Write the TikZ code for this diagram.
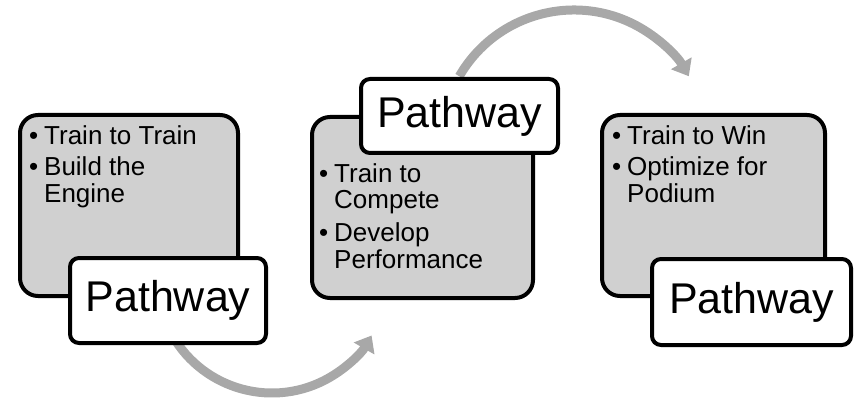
\documentclass[tikz,border=0pt]{standalone}
\usepackage{fontspec}
\setmainfont{Liberation Sans}
\usetikzlibrary{arrows.meta}
\definecolor{panelgray}{RGB}{208,208,208}
\definecolor{flowgray}{RGB}{168,168,168}
\tikzset{
  panel/.style={draw=black, line width=4pt, fill=panelgray, rounded corners=18pt,
    inner sep=0pt, anchor=center},
  tag/.style={draw=black, line width=4pt, fill=white, rounded corners=9pt,
    inner sep=0pt, anchor=center, font=\fontsize{43}{43}\selectfont},
  flow/.style={draw=flowgray, line width=9pt, -{Triangle[width=23pt,length=15pt]}},
  items/.style={anchor=base west, inner sep=0pt, align=left,
    font=\fontsize{26}{26}\selectfont}
}
\newcommand{\bul}{\makebox[15pt][l]{\textbullet}}
\begin{document}
\begin{tikzpicture}[x=1pt, y=-1pt]
  \useasboundingbox (0,0) rectangle (855,401);

  % curved flow arrows, drawn first so the boxes cover their tails
  \coordinate (lowstart) at (172.4,335.5);
  \coordinate (highstart) at (459.3,76.25);
  \draw[flow] (lowstart) arc[start angle=150, end angle=30, radius=115];
  \draw[flow] (highstart) arc[start angle=210, end angle=330, radius=132.5];

  % grey stage panels
  \node[panel, minimum width=218pt, minimum height=181pt] (p1) at (129,205.5) {};
  \node[panel, minimum width=221pt, minimum height=181pt] (p2) at (422.5,207.5) {};
  \node[panel, minimum width=223pt, minimum height=181pt] (p3) at (713.5,205.5) {};

  % stage labels
  \node[tag, minimum width=196pt, minimum height=85pt] (t1) at (168,300.5) {Pathway};
  \node[tag, minimum width=197pt, minimum height=74pt] (t2) at (459.5,116) {Pathway};
  \node[tag, minimum width=199pt, minimum height=86pt] (t3) at (751.5,302) {Pathway};

  % bullet lists
  \node[items] (l1) at (29,145) {\begin{tabular}[t]{@{}l@{}l@{}}
    \bul & Train to Train\\[4pt]
    \bul & Build the\\
         & Engine
  \end{tabular}};
  \node[items] (l2) at (319,183) {\begin{tabular}[t]{@{}l@{}l@{}}
    \bul & Train to\\
         & Compete\\[6pt]
    \bul & Develop\\
         & Performance
  \end{tabular}};
  \node[items] (l3) at (612,145) {\begin{tabular}[t]{@{}l@{}l@{}}
    \bul & Train to Win\\[4pt]
    \bul & Optimize for\\
         & Podium
  \end{tabular}};
\end{tikzpicture}
\end{document}
